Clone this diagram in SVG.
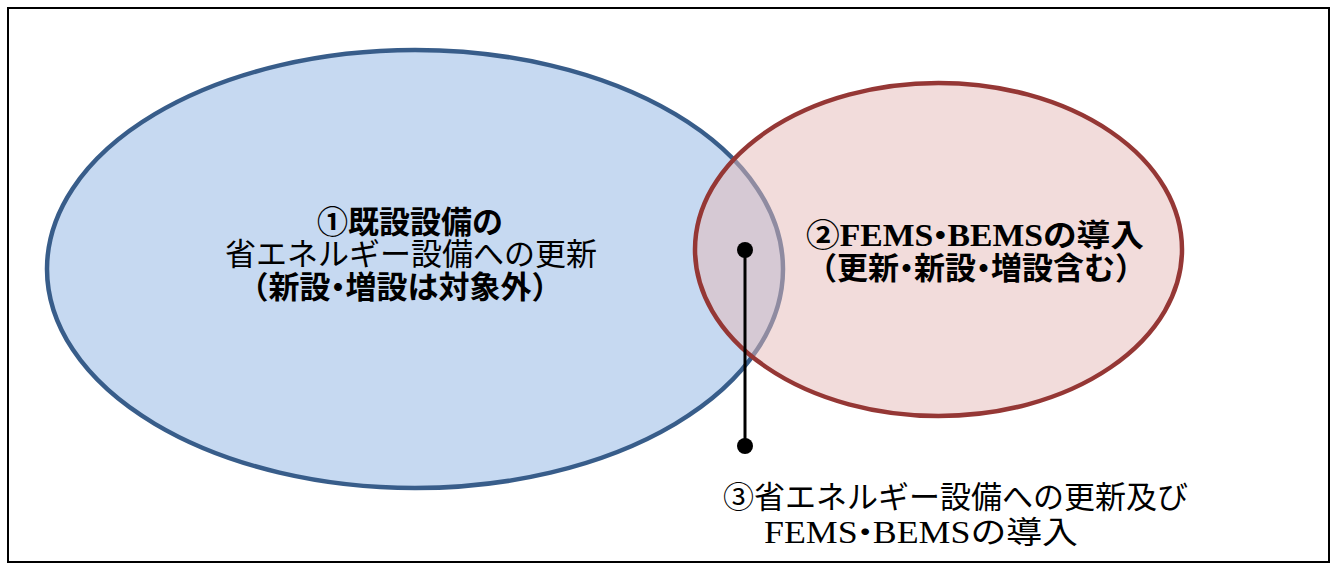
<svg xmlns="http://www.w3.org/2000/svg" width="1336" height="565" viewBox="0 0 1336 565">
<style>
.t{font-family:"Liberation Serif","Noto Sans CJK JP",serif;font-size:31px;fill:#000}
.b{font-weight:bold}
</style>
<rect width="1336" height="565" fill="#fff"/>
<rect x="8" y="8" width="1321" height="554" fill="none" stroke="#000" stroke-width="2"/>
<g id="node1">
<ellipse cx="415" cy="269" rx="368" ry="219" fill="#c6d9f1" stroke="#385d8a" stroke-width="4.5"/>
</g>
<g id="node2">
<ellipse cx="938.5" cy="249.5" rx="243.5" ry="166.5" fill="#e5b9b7" fill-opacity="0.5" stroke="#953735" stroke-width="4.5"/>
</g>
<g id="connectors">
<line x1="745" y1="250" x2="745" y2="446" stroke="#000" stroke-width="3"/>
<circle cx="745" cy="250" r="8" fill="#000"/>
<circle cx="745" cy="446" r="8" fill="#000"/>
</g>
<g id="label1" text-anchor="middle">
<text class="t b" x="410" y="233">①既設設備の</text>
<text class="t" x="411" y="265">省エネルギー設備への更新</text>
<text class="t b" x="400" y="298" dx="0 0 0 -8 -8">（新設・増設は対象外）</text>
</g>
<g id="label2" text-anchor="middle">
<text class="t b" x="975" y="246" dx="0 0 0 0 0 -9 -9" textLength="338" lengthAdjust="spacingAndGlyphs">②FEMS・BEMSの導入</text>
<text class="t b" x="976" y="279" dx="0 0 0 -8 -8 0 -8 -8">（更新・新設・増設含む）</text>
</g>
<g id="label3">
<text class="t" x="723" y="508">③省エネルギー設備への更新及び</text>
<text class="t" x="764" y="543" dx="0 0 0 0 -9 -9" textLength="314" lengthAdjust="spacingAndGlyphs">FEMS・BEMSの導入</text>
</g>
</svg>
